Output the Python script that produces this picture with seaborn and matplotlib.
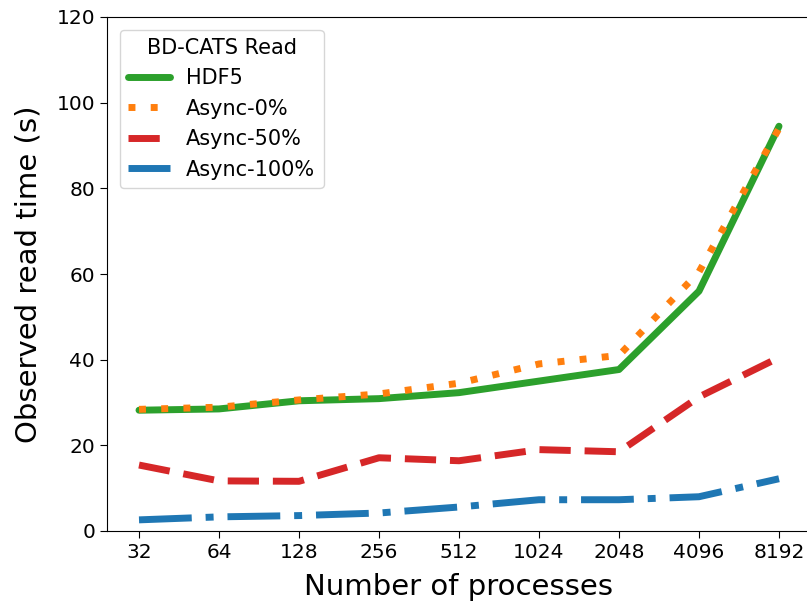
import matplotlib
matplotlib.use("Agg")
import matplotlib.pyplot as plt
import seaborn as sns
import pandas as pd

procs = ["32", "64", "128", "256", "512", "1024", "2048", "4096", "8192"]
hdf5 = [28.2, 28.5, 30.4, 30.9, 32.3, 35.0, 37.7, 56.0, 94.5]
async_0 = [28.4, 28.9, 30.6, 32.0, 34.5, 39.0, 41.0, 60.5, 94.0]
async_50 = [15.4, 11.7, 11.6, 17.1, 16.4, 19.0, 18.5, 31.3, 40.5]
async_100 = [2.6, 3.3, 3.6, 4.2, 5.6, 7.3, 7.3, 8.0, 12.2]

series = ["HDF5", "Async-0%", "Async-50%", "Async-100%"]
values = [hdf5, async_0, async_50, async_100]
colors = ["#2ca02c", "#ff7f0e", "#d62728", "#1f77b4"]
styles = ["-", (0, (1, 2.2)), (0, (4.5, 2)), (0, (7.6, 2, 1.15, 2))]

sns.set_style("ticks", {"text.color": "black", "axes.labelcolor": "black",
                        "xtick.color": "black", "ytick.color": "black",
                        "axes.edgecolor": "black"})
fig = plt.figure(figsize=(8.07, 6.04), dpi=100)
ax = fig.add_axes([107 / 807, 1 - 531 / 604, 704 / 807, 514 / 604])

for name, vals, col, ls in zip(series, values, colors, styles):
    df = pd.DataFrame({"procs": procs, "time": vals})
    sns.lineplot(data=df, x="procs", y="time", ax=ax, color=col,
                 linestyle=ls, linewidth=5, label=name, sort=False)

ax.set_ylim(0, 120)
ax.set_xlabel("Number of processes", fontsize=21, labelpad=8)
ax.set_ylabel("Observed read time (s)", fontsize=21, labelpad=10)
ax.tick_params(labelsize=14.5, length=5)
ax.legend(title="BD-CATS Read", loc="upper left", fontsize=15,
          title_fontsize=15, borderaxespad=0.6, handlelength=2.0)

fig.savefig("out.png", dpi=100)
